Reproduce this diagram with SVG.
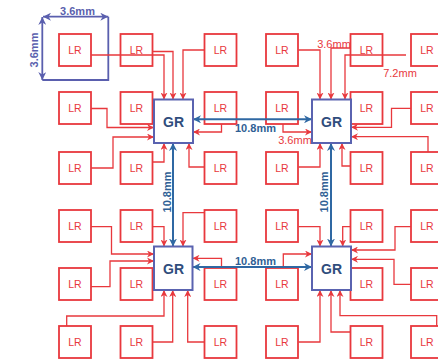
<svg xmlns="http://www.w3.org/2000/svg" width="438" height="361" viewBox="0 0 438 361">
<defs>
<style>
.lr rect{fill:none;stroke:#e8383d;stroke-width:1.8}
.lr text{font-family:"Liberation Sans",Arial,sans-serif;font-size:10.5px;fill:#e8383d;text-anchor:middle}
.gr rect{fill:#fff;stroke:#5a63b0;stroke-width:2}
.gr text{font-family:"Liberation Sans",Arial,sans-serif;font-size:14px;font-weight:bold;fill:#2f4d7d;text-anchor:middle}
.rc{fill:none;stroke:#e8383d;stroke-width:1.3;marker-end:url(#ra)}
.bc{fill:none;stroke:#2f68a3;stroke-width:2;marker-start:url(#ba);marker-end:url(#ba)}
.dim{fill:none;stroke:#5a5fae;stroke-width:1.8}
.lbl{font-family:"Liberation Sans",Arial,sans-serif;font-size:11px;text-anchor:middle}
.bl{font-weight:bold;fill:#2f5f95}
.pl{font-weight:bold;fill:#5a5fae}
.rl{fill:#e8383d}
</style>
<marker id="ra" viewBox="0 0 10 10" refX="10" refY="5" markerWidth="7" markerHeight="7" markerUnits="userSpaceOnUse" orient="auto-start-reverse">
<path d="M0,0 L10,5 L0,10 L3,5 Z" fill="#e8383d"/>
</marker>
<marker id="ba" viewBox="0 0 10 10" refX="10" refY="5" markerWidth="8" markerHeight="8" markerUnits="userSpaceOnUse" orient="auto-start-reverse">
<path d="M0,0 L10,5 L0,10 L3,5 Z" fill="#2f68a3"/>
</marker>
<marker id="pa" viewBox="0 0 10 10" refX="10" refY="5" markerWidth="8" markerHeight="8" markerUnits="userSpaceOnUse" orient="auto-start-reverse">
<path d="M0,0 L10,5 L0,10 L3,5 Z" fill="#5a5fae"/>
</marker>
</defs>
<rect width="438" height="361" fill="#fff"/>

<g id="dimension-box">
<path class="dim" d="M108.3,16.7 V80 H42.3"/>
<line x1="43" y1="16.7" x2="108.3" y2="16.7" class="dim" marker-start="url(#pa)" marker-end="url(#pa)"/>
<line x1="42.3" y1="17" x2="42.3" y2="80" class="dim" marker-start="url(#pa)" marker-end="url(#pa)"/>
<text class="lbl pl" x="77.5" y="14.7">3.6mm</text>
<text class="lbl pl" transform="translate(37.5,50) rotate(-90)">3.6mm</text>
</g>

<g id="lr-r1c1" class="lr"><rect x="59" y="34" width="32" height="32"/><text x="75" y="54">LR</text></g>
<g id="lr-r1c2" class="lr"><rect x="120.5" y="34" width="32" height="32"/><text x="136.5" y="54">LR</text></g>
<g id="lr-r1c3" class="lr"><rect x="204.5" y="34" width="32" height="32"/><text x="220.5" y="54">LR</text></g>
<g id="lr-r1c4" class="lr"><rect x="266" y="34" width="32" height="32"/><text x="282" y="54">LR</text></g>
<g id="lr-r1c5" class="lr"><rect x="350.5" y="34" width="32" height="32"/><text x="366.5" y="54">LR</text></g>
<g id="lr-r1c6" class="lr"><rect x="411" y="34" width="32" height="32"/><text x="427" y="54">LR</text></g>

<g id="lr-r2c1" class="lr"><rect x="59" y="92" width="32" height="32"/><text x="75" y="112">LR</text></g>
<g id="lr-r2c2" class="lr"><rect x="120.5" y="92" width="32" height="32"/><text x="136.5" y="112">LR</text></g>
<g id="lr-r2c3" class="lr"><rect x="204.5" y="92" width="32" height="32"/><text x="220.5" y="112">LR</text></g>
<g id="lr-r2c4" class="lr"><rect x="266" y="92" width="32" height="32"/><text x="282" y="112">LR</text></g>
<g id="lr-r2c5" class="lr"><rect x="350.5" y="92" width="32" height="32"/><text x="366.5" y="112">LR</text></g>
<g id="lr-r2c6" class="lr"><rect x="411" y="92" width="32" height="32"/><text x="427" y="112">LR</text></g>

<g id="lr-r3c1" class="lr"><rect x="59" y="152" width="32" height="32"/><text x="75" y="172">LR</text></g>
<g id="lr-r3c2" class="lr"><rect x="120.5" y="152" width="32" height="32"/><text x="136.5" y="172">LR</text></g>
<g id="lr-r3c3" class="lr"><rect x="204.5" y="152" width="32" height="32"/><text x="220.5" y="172">LR</text></g>
<g id="lr-r3c4" class="lr"><rect x="266" y="152" width="32" height="32"/><text x="282" y="172">LR</text></g>
<g id="lr-r3c5" class="lr"><rect x="350.5" y="152" width="32" height="32"/><text x="366.5" y="172">LR</text></g>
<g id="lr-r3c6" class="lr"><rect x="411" y="152" width="32" height="32"/><text x="427" y="172">LR</text></g>

<g id="lr-r4c1" class="lr"><rect x="59" y="210" width="32" height="32"/><text x="75" y="230">LR</text></g>
<g id="lr-r4c2" class="lr"><rect x="120.5" y="210" width="32" height="32"/><text x="136.5" y="230">LR</text></g>
<g id="lr-r4c3" class="lr"><rect x="204.5" y="210" width="32" height="32"/><text x="220.5" y="230">LR</text></g>
<g id="lr-r4c4" class="lr"><rect x="266" y="210" width="32" height="32"/><text x="282" y="230">LR</text></g>
<g id="lr-r4c5" class="lr"><rect x="350.5" y="210" width="32" height="32"/><text x="366.5" y="230">LR</text></g>
<g id="lr-r4c6" class="lr"><rect x="411" y="210" width="32" height="32"/><text x="427" y="230">LR</text></g>

<g id="lr-r5c1" class="lr"><rect x="59" y="268" width="32" height="32"/><text x="75" y="288">LR</text></g>
<g id="lr-r5c2" class="lr"><rect x="120.5" y="268" width="32" height="32"/><text x="136.5" y="288">LR</text></g>
<g id="lr-r5c3" class="lr"><rect x="204.5" y="268" width="32" height="32"/><text x="220.5" y="288">LR</text></g>
<g id="lr-r5c4" class="lr"><rect x="266" y="268" width="32" height="32"/><text x="282" y="288">LR</text></g>
<g id="lr-r5c5" class="lr"><rect x="350.5" y="268" width="32" height="32"/><text x="366.5" y="288">LR</text></g>
<g id="lr-r5c6" class="lr"><rect x="411" y="268" width="32" height="32"/><text x="427" y="288">LR</text></g>

<g id="lr-r6c1" class="lr"><rect x="59" y="326" width="32" height="32"/><text x="75" y="346">LR</text></g>
<g id="lr-r6c2" class="lr"><rect x="120.5" y="326" width="32" height="32"/><text x="136.5" y="346">LR</text></g>
<g id="lr-r6c3" class="lr"><rect x="204.5" y="326" width="32" height="32"/><text x="220.5" y="346">LR</text></g>
<g id="lr-r6c4" class="lr"><rect x="266" y="326" width="32" height="32"/><text x="282" y="346">LR</text></g>
<g id="lr-r6c5" class="lr"><rect x="350.5" y="326" width="32" height="32"/><text x="366.5" y="346">LR</text></g>
<g id="lr-r6c6" class="lr"><rect x="411" y="326" width="32" height="32"/><text x="427" y="346">LR</text></g>

<g id="connectors">
<!-- GR1 -->
<polyline class="rc" points="91,55 164,55 164,99.5"/>
<polyline class="rc" points="152.5,51.5 173,51.5 173,99.5"/>
<polyline class="rc" points="204.5,50 183,50 183,99.5"/>
<polyline class="rc" points="91,108.5 107,108.5 107,127.5 154,127.5"/>
<polyline class="rc" points="91,168 113,168 113,137 154,137"/>
<polyline class="rc" points="221.5,124 221.5,132 193,132"/>
<polyline class="rc" points="152.5,162 164,162 164,143"/>
<polyline class="rc" points="204.5,167 189,167 189,143"/>
<!-- GR2 -->
<polyline class="rc" points="298.5,50 320,50 320,99.5"/>
<polyline class="rc" points="350.5,48 331,48 331,99.5"/>
<polyline class="rc" points="406,55 345,55 345,99.5"/>
<polyline class="rc" points="283,124 283,132 312,132"/>
<polyline class="rc" points="411,108.3 391.5,108.3 391.5,127.3 351,127.3"/>
<polyline class="rc" points="428,152 428,136.7 351,136.7"/>
<polyline class="rc" points="298.5,167 320,167 320,143"/>
<polyline class="rc" points="350.5,166 342,166 342,143"/>
<!-- GR3 -->
<polyline class="rc" points="152.5,226.7 164,226.7 164,246.5"/>
<polyline class="rc" points="204.5,212.7 183,212.7 183,246.5"/>
<polyline class="rc" points="91,226.7 111.5,226.7 111.5,254 154,254"/>
<polyline class="rc" points="91,286.7 110,286.7 110,261 154,261"/>
<polyline class="rc" points="221.5,268 221.5,258.3 192.5,258.3"/>
<polyline class="rc" points="66.7,326 66.7,316 164,316 164,290"/>
<polyline class="rc" points="152.5,342 172.7,342 172.7,290"/>
<polyline class="rc" points="204.5,342 187.7,342 187.7,290"/>
<!-- GR4 -->
<polyline class="rc" points="298.5,226.7 320,226.7 320,246.5"/>
<polyline class="rc" points="350.5,226.7 342.7,226.7 342.7,246.5"/>
<polyline class="rc" points="283.3,268 283.3,254 312,254"/>
<polyline class="rc" points="411,226.7 395,226.7 395,250 351,250"/>
<polyline class="rc" points="411,284.3 394,284.3 394,259.3 351,259.3"/>
<polyline class="rc" points="298.5,342 320,342 320,290"/>
<polyline class="rc" points="350.5,332 331,332 331,290"/>
<polyline class="rc" points="436.7,326 436.7,315.7 340,315.7 340,290"/>
<!-- blue GR-GR links -->
<line class="bc" x1="193" y1="119.3" x2="312" y2="119.3"/>
<line class="bc" x1="192.5" y1="267" x2="312" y2="267"/>
<line class="bc" x1="173" y1="143" x2="173" y2="246.5"/>
<line class="bc" x1="331" y1="143" x2="331" y2="246.5"/>
<text class="lbl bl" x="255.5" y="132">10.8mm</text>
<text class="lbl bl" x="255.5" y="264.7">10.8mm</text>
<text class="lbl bl" transform="translate(171,192) rotate(-90)">10.8mm</text>
<text class="lbl bl" transform="translate(328,192) rotate(-90)">10.8mm</text>
<text class="lbl rl" x="334" y="48">3.6mm</text>
<text class="lbl rl" x="400" y="77">7.2mm</text>
<text class="lbl rl" x="295" y="144">3.6mm</text>
</g>

<g id="gr-1" class="gr"><rect x="154" y="99.5" width="39" height="43.5"/><text x="173.5" y="126.5">GR</text></g>
<g id="gr-2" class="gr"><rect x="312" y="99.5" width="39" height="43.5"/><text x="331.5" y="126.5">GR</text></g>
<g id="gr-3" class="gr"><rect x="154" y="246.5" width="38.5" height="43.5"/><text x="173.5" y="273.5">GR</text></g>
<g id="gr-4" class="gr"><rect x="312" y="246.5" width="39" height="43.5"/><text x="331.5" y="273.5">GR</text></g>
</svg>
